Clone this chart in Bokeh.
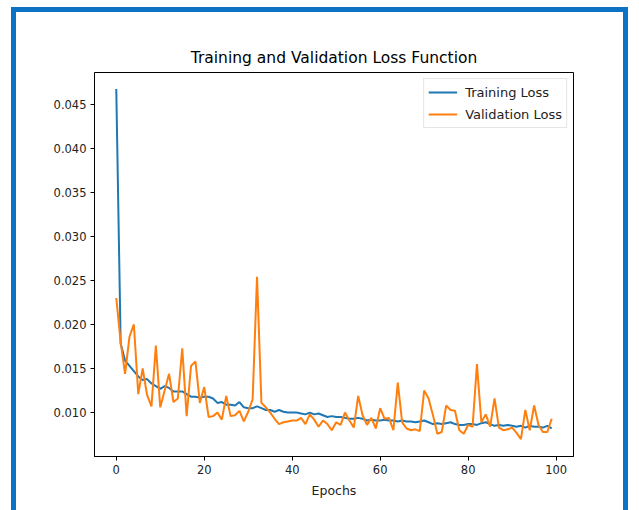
from bokeh.plotting import figure
from bokeh.models import Range1d, FixedTicker, Legend, LegendItem, NumeralTickFormatter, ColumnDataSource
from bokeh.embed import file_html
from bokeh.resources import INLINE

epochs = list(range(100))

training_loss = [
    0.0467, 0.0178, 0.0159, 0.0153, 0.0147, 0.0141, 0.0137, 0.0138, 0.0133, 0.0130,
    0.0127, 0.0130, 0.0128, 0.0124, 0.0124, 0.0124, 0.0121, 0.0118, 0.0118, 0.0117,
    0.0118, 0.0118, 0.0116, 0.0111, 0.0112, 0.0109, 0.0109, 0.0108, 0.0112, 0.0106,
    0.0105, 0.0105, 0.0107, 0.0105, 0.0103, 0.0103, 0.0101, 0.0103, 0.0101, 0.0100,
    0.0100, 0.0100, 0.0099, 0.0098, 0.0100, 0.0098, 0.0099, 0.0097, 0.0095, 0.0096,
    0.0095, 0.0095, 0.0094, 0.0093, 0.0093, 0.0094, 0.0093, 0.0091, 0.0092, 0.0091,
    0.0091, 0.0092, 0.0091, 0.0091, 0.0090, 0.0091, 0.0090, 0.0090, 0.0089, 0.0090,
    0.0091, 0.0089, 0.0087, 0.0088, 0.0087, 0.0088, 0.0089, 0.0087, 0.0086, 0.0086,
    0.0087, 0.0087, 0.0086, 0.0088, 0.0089, 0.0087, 0.0085, 0.0086, 0.0085, 0.0086,
    0.0085, 0.0084, 0.0085, 0.0083, 0.0085, 0.0084, 0.0084, 0.0083, 0.0085, 0.0082,
]

validation_loss = [
    0.0230, 0.0180, 0.0144, 0.0186, 0.0200, 0.0121, 0.0150, 0.0120, 0.0107, 0.0176,
    0.0106, 0.0125, 0.0144, 0.0112, 0.0116, 0.0173, 0.0096, 0.0153, 0.0158, 0.0111,
    0.0129, 0.0095, 0.0096, 0.0100, 0.0092, 0.0119, 0.0096, 0.0097, 0.0102, 0.0090,
    0.0101, 0.0115, 0.0254, 0.0111, 0.0106, 0.0100, 0.0093, 0.0087, 0.0089, 0.0090,
    0.0091, 0.0091, 0.0094, 0.0087, 0.0098, 0.0092, 0.0084, 0.0091, 0.0087, 0.0080,
    0.0089, 0.0086, 0.0100, 0.0091, 0.0083, 0.0119, 0.0097, 0.0086, 0.0094, 0.0082,
    0.0105, 0.0093, 0.0094, 0.0080, 0.0134, 0.0089, 0.0082, 0.0080, 0.0081, 0.0079,
    0.0125, 0.0116, 0.0097, 0.0076, 0.0078, 0.0108, 0.0103, 0.0102, 0.0080, 0.0076,
    0.0086, 0.0084, 0.0155, 0.0089, 0.0098, 0.0084, 0.0116, 0.0083, 0.0080, 0.0081,
    0.0083, 0.0077, 0.0070, 0.0103, 0.0080, 0.0108, 0.0086, 0.0078, 0.0078, 0.0093,
]

y_ticks = [0.010, 0.015, 0.020, 0.025, 0.030, 0.035, 0.040, 0.045]
x_ticks = [0, 20, 40, 60, 80, 100]

title_text = "Training and Validation Loss Function"
x_label = "Epochs"
series_names = ["Training Loss", "Validation Loss"]

FONT = "DejaVu Sans"

p = figure(
    width=617, height=510,
    output_backend="svg", toolbar_location=None,
    x_range=Range1d(-4.95, 103.95), y_range=Range1d(0.00502, 0.04858),
    min_border_left=78, min_border_right=60, min_border_top=60, min_border_bottom=66,
    title=title_text,
)
p.margin = (7, 0, 0, 11)
p.styles = {"border": "5px solid #0b72c4"}

p.title.align = "center"
p.title.text_font = FONT
p.title.text_font_size = "15.5px"
p.title.text_font_style = "normal"
p.title.text_color = "black"
p.title.standoff = 12

p.background_fill_color = "white"
p.border_fill_color = "white"
p.outline_line_color = "black"
p.outline_line_width = 1
p.xgrid.visible = False
p.ygrid.visible = False

for ax in (p.xaxis[0], p.yaxis[0]):
    ax.axis_line_color = "black"
    ax.major_tick_line_color = "black"
    ax.major_tick_out = 4
    ax.major_tick_in = 0
    ax.minor_tick_line_color = None
    ax.major_label_text_font = FONT
    ax.major_label_text_font_size = "11.5px"
    ax.major_label_text_color = "#222222"
    ax.major_label_standoff = 4
    ax.axis_label_text_font = FONT
    ax.axis_label_text_font_size = "12.5px"
    ax.axis_label_text_font_style = "normal"
    ax.axis_label_text_color = "#222222"

p.xaxis[0].ticker = FixedTicker(ticks=x_ticks)
p.yaxis[0].ticker = FixedTicker(ticks=y_ticks)
p.yaxis[0].formatter = NumeralTickFormatter(format="0.000")
p.xaxis[0].axis_label = x_label
p.xaxis[0].axis_label_standoff = 6

src = ColumnDataSource(dict(epoch=epochs, train=training_loss, val=validation_loss))
r1 = p.line("epoch", "train", source=src, line_color="#1f77b4", line_width=2)
r2 = p.line("epoch", "val", source=src, line_color="#ff7f0e", line_width=2)

legend = Legend(
    items=[LegendItem(label=series_names[0], renderers=[r1]),
           LegendItem(label=series_names[1], renderers=[r2])],
    location="top_right",
)
legend.margin = 6
legend.padding = 4
legend.spacing = 4
legend.glyph_width = 29
legend.glyph_height = 18
legend.label_height = 18
legend.label_standoff = 8
legend.label_text_font = FONT
legend.label_text_font_size = "13px"
legend.label_text_color = "#222222"
legend.border_line_color = "#cccccc"
legend.border_line_width = 1
legend.background_fill_color = "white"
legend.background_fill_alpha = 0.8
p.add_layout(legend)

open("out.html", "w").write(file_html(p, INLINE))
